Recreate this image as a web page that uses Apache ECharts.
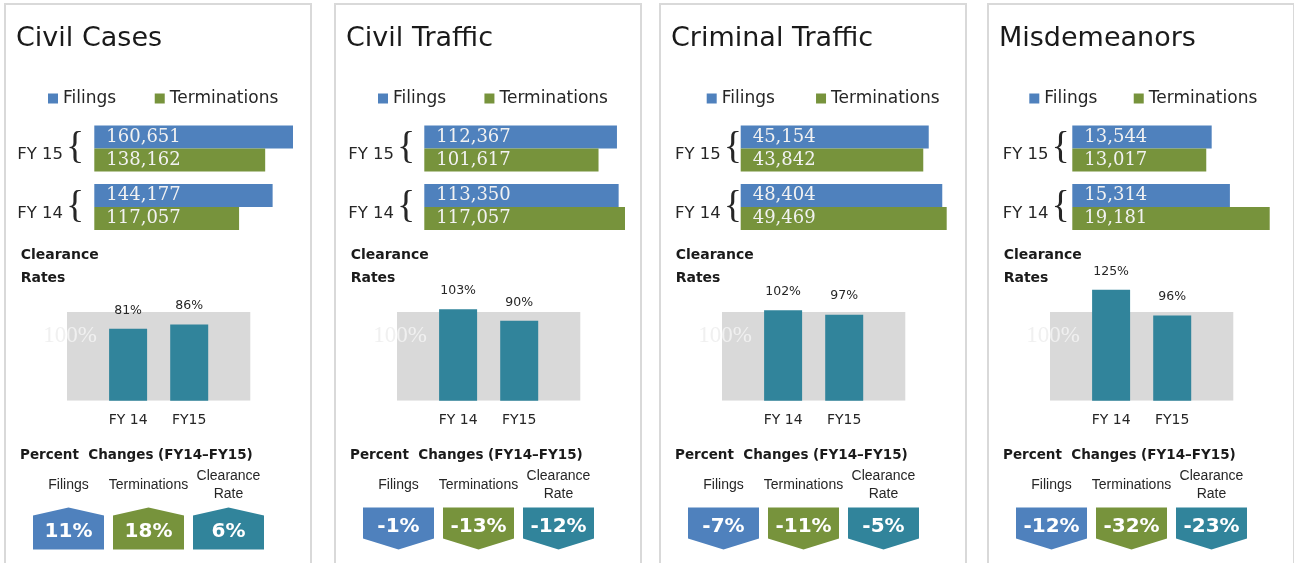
<!DOCTYPE html>
<html><head><meta charset="utf-8">
<script src="https://cdn.jsdelivr.net/npm/echarts@6/dist/echarts.min.js"></script>
<style>
html,body{margin:0;padding:0;background:#fff;width:1294px;height:563px;overflow:hidden;position:relative;}
.chart{position:absolute;top:0;width:310px;height:563px;}
.frame{position:absolute;top:3px;width:304px;height:600px;border:2px solid #d9d9d9;pointer-events:none;}
</style></head><body>
<script>
// ---- data ----
const panelTitles = ['Civil Cases', 'Civil Traffic', 'Criminal Traffic', 'Misdemeanors'];
const fyCategories = ['FY 14', 'FY 15'];
const clearanceCategories = ['FY 14', 'FY15'];
const changeCategories = ['Filings', 'Terminations', 'Clearance\nRate'];
const legendNames = ['Filings', 'Terminations'];
const filingsFY14 = [144177, 113350, 48404, 15314];
const filingsFY15 = [160651, 112367, 45154, 13544];
const terminationsFY14 = [117057, 117057, 49469, 19181];
const terminationsFY15 = [138162, 101617, 43842, 13017];
const clearanceFY14 = [81, 103, 102, 125];
const clearanceFY15 = [86, 90, 97, 96];
const clearanceTarget = 100;
const pctFilings = [11, -1, -7, -12];
const pctTerminations = [18, -13, -11, -32];
const pctClearance = [6, -12, -5, -23];

// ---- style / layout ----
const BLUE = '#4f81bd', GREEN = '#77933c', TEAL = '#31849b', GRAY = '#d9d9d9', TXT = '#262626';
const panelLeft = [4, 334, 659, 987];
const legendLeft = [44, 44, 47.7, 42.3];
const legendGap = [38.6, 38.3, 41.2, 36.3];
const barLeft = [90.3, 90.3, 81.7, 85.3];
const barWidthPx = [198.7, 200.7, 206, 197.4];
const labelLeft = [13.3, 14.3, 16, 15.7];
const UP = 'path://M0,8L35.5,0L71,8L71,42L0,42Z';
const DOWN = 'path://M0,0L71,0L71,31L35.5,42L0,31Z';

for (let i = 0; i < 4; i++) {
  const div = document.createElement('div');
  div.className = 'chart';
  div.style.left = panelLeft[i] + 'px';
  document.body.appendChild(div);
  const frame = document.createElement('div');
  frame.className = 'frame';
  frame.style.left = panelLeft[i] + 'px';
  document.body.appendChild(frame);

  const changes = [pctFilings[i], pctTerminations[i], pctClearance[i]];
  const changeColors = [BLUE, GREEN, TEAL];
  const chart = echarts.init(div, null, { renderer: 'canvas' });
  const barLabel = {
    show: true, position: 'insideLeft', distance: 12,
    formatter: p => p.value.toLocaleString('en-US'),
    fontFamily: 'DejaVu Serif', fontSize: 18, color: '#f2f2f2'
  };
  chart.setOption({
    animation: false,
    title: [
      { text: panelTitles[i], left: 12, top: 24, padding: 0,
        textStyle: { fontFamily: 'DejaVu Sans', fontSize: 27, fontWeight: 'normal', color: '#1a1a1a', lineHeight: 30 } },
      { text: 'Clearance\nRates', left: 16.7, top: 243.5, padding: 0,
        textStyle: { fontFamily: 'DejaVu Sans', fontWeight: 'bold', fontSize: 14, lineHeight: 23, color: '#1a1a1a' } },
      { text: 'Percent  Changes (FY14\u2013FY15)', left: 16, top: 446, padding: 0,
        textStyle: { fontFamily: 'DejaVu Sans', fontWeight: 'bold', fontSize: 13.5, lineHeight: 18, color: '#1a1a1a' } }
    ],
    legend: {
      data: legendNames, left: legendLeft[i], top: 90, padding: 0, itemGap: legendGap[i],
      itemWidth: 10, itemHeight: 10, icon: 'rect', selectedMode: false,
      textStyle: { fontFamily: 'DejaVu Sans', fontSize: 17, color: TXT }
    },
    grid: [
      { left: barLeft[i], top: 119.25, width: barWidthPx[i], height: 117 },
      { left: 63, top: 276.5, width: 183.3, height: 124.2 },
      { left: 24.5, top: 507, width: 240, height: 43 }
    ],
    xAxis: [
      { gridIndex: 0, type: 'value', min: 0, max: 'dataMax', show: false },
      { gridIndex: 1, type: 'category', data: [''].concat(clearanceCategories, ['']), boundaryGap: false,
        axisLine: { show: false }, axisTick: { show: false },
        axisLabel: { interval: 0, margin: 13, fontFamily: 'DejaVu Sans', fontSize: 14, color: TXT } },
      { gridIndex: 2, type: 'category', data: changeCategories, position: 'top',
        axisLine: { show: false }, axisTick: { show: false },
        axisLabel: { interval: 0, margin: 21.5, verticalAlign: 'middle', fontFamily: 'Liberation Sans',
          fontSize: 14, lineHeight: 18, color: TXT } }
    ],
    yAxis: [
      { gridIndex: 0, type: 'category', data: fyCategories,
        axisLine: { show: false }, axisTick: { show: false }, splitLine: { show: false },
        axisLabel: { align: 'left', margin: barLeft[i] - labelLeft[i],
          formatter: v => '{a|' + v + '}{b|{}',
          rich: {
            a: { fontFamily: 'DejaVu Sans', fontSize: 16.5, color: TXT, verticalAlign: 'bottom', padding: [0, 0, 4, 0] },
            b: { fontFamily: 'Liberation Serif', fontSize: 38, color: TXT, padding: [0, 0, 0, 3], verticalAlign: 'bottom' }
          } } },
      { gridIndex: 1, type: 'value', min: 0, max: 140, show: false },
      { gridIndex: 2, type: 'category', data: ['change'], show: false }
    ],
    series: [
      { name: 'Filings', type: 'bar', xAxisIndex: 0, yAxisIndex: 0, barWidth: 23, barGap: '0%',
        data: [filingsFY14[i], filingsFY15[i]], itemStyle: { color: BLUE }, label: barLabel },
      { name: 'Terminations', type: 'bar', xAxisIndex: 0, yAxisIndex: 0, barWidth: 23, barGap: '0%',
        data: [terminationsFY14[i], terminationsFY15[i]], itemStyle: { color: GREEN }, label: barLabel },
      { name: 'Target', type: 'line', xAxisIndex: 1, yAxisIndex: 1, silent: true, z: 1,
        data: [clearanceTarget, clearanceTarget, clearanceTarget, clearanceTarget],
        symbol: 'circle', symbolSize: 1, itemStyle: { color: 'rgba(0,0,0,0)' },
        lineStyle: { width: 0, color: GRAY }, areaStyle: { color: GRAY, opacity: 1 },
        label: { show: true, position: 'bottom', distance: 0, offset: [3, 12],
          formatter: p => p.dataIndex === 0 ? clearanceTarget + '%' : '',
          fontFamily: 'Liberation Serif', fontSize: 23, color: '#f0f0f0' } },
      { name: 'Clearance', type: 'bar', xAxisIndex: 1, yAxisIndex: 1, barWidth: 38, z: 3,
        data: ['-', clearanceFY14[i], clearanceFY15[i], '-'], itemStyle: { color: TEAL },
        label: { show: true, position: 'top', distance: 12, formatter: '{c}%',
          fontFamily: 'DejaVu Sans', fontSize: 12.5, color: TXT } },
      { name: 'Change', type: 'scatter', xAxisIndex: 2, yAxisIndex: 2, symbolSize: [71, 42],
        itemStyle: { opacity: 1 },
        data: changes.map((v, k) => ({
          value: [k, 0], symbol: v >= 0 ? UP : DOWN,
          itemStyle: { color: changeColors[k], opacity: 1 },
          label: { offset: [0, v >= 0 ? 3 : -2] }
        })),
        label: { show: true, position: 'inside', formatter: p => changes[p.dataIndex] + '%',
          fontFamily: 'DejaVu Sans', fontWeight: 'bold', fontSize: 20, color: '#ffffff' } }
    ]
  });
}
</script>
</body></html>
